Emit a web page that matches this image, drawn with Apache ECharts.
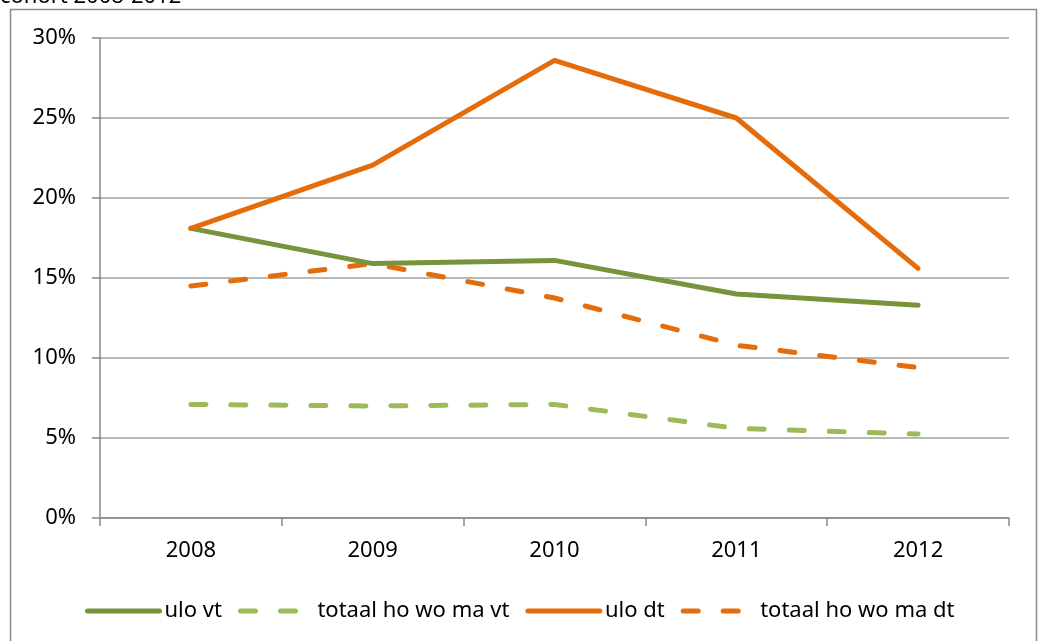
<!DOCTYPE html>
<html>
<head>
<meta charset="utf-8">
<title>cohort 2008-2012</title>
<script src="https://cdn.jsdelivr.net/npm/echarts@6/dist/echarts.min.js"></script>
<style>
    html, body { margin: 0; padding: 0; background: #fff; }
    #main { width: 1038px; height: 641px; }
</style>
</head>
<body>
<div id="main"></div>
<script type="text/javascript">
    // data (percent)
    var years = ['2008', '2009', '2010', '2011', '2012'];
    var uloVt = [18.1, 15.9, 16.1, 14.0, 13.3];
    var totaalVt = [7.1, 7.0, 7.1, 5.6, 5.25];
    var uloDt = [18.1, 22.05, 28.6, 25.0, 15.6];
    var totaalDt = [14.5, 15.9, 13.75, 10.8, 9.4];

    var font = 'Noto Sans';

    var myChart = echarts.init(document.getElementById('main'));

    function lineSeries(name, data, color, dashed) {
        return {
            name: name,
            type: 'line',
            data: data,
            symbol: 'none',
            lineStyle: {
                color: color,
                width: 5,
                type: dashed ? [15, 25] : 'solid',
                cap: 'round',
                join: 'round'
            },
            itemStyle: { color: color },
            z: dashed ? 2 : 3
        };
    }

    var option = {
        animation: false,
        textStyle: { fontFamily: font },
        graphic: [{
            type: 'rect',
            shape: { x: 10.5, y: 9.5, width: 1026, height: 700 },
            style: { fill: 'none', stroke: '#8c8c8c', lineWidth: 1.5 },
            z: -1
        }, {
            type: 'text',
            left: 0,
            top: -14,
            style: { text: 'cohort 2008-2012', fill: '#000', font: '22px "Noto Sans"' }
        }],
        grid: {
            left: 100,
            right: 29,
            top: 38,
            bottom: 123
        },
        legend: {
            left: 80,
            top: 595,
            itemWidth: 72,
            itemHeight: 10,
            itemGap: 16,
            itemStyle: { opacity: 0 },
            lineStyle: { width: 5, cap: 'round' },
            textStyle: { fontFamily: font, fontSize: 22, color: '#000' },
            data: ['ulo vt', 'totaal ho wo ma vt', 'ulo dt', 'totaal ho wo ma dt']
        },
        xAxis: {
            type: 'category',
            data: years,
            boundaryGap: true,
            axisLine: { lineStyle: { color: '#888', width: 1.5 } },
            axisTick: { show: true, length: 8, inside: false, lineStyle: { color: '#888', width: 1.5 } },
            axisLabel: { color: '#000', fontSize: 22, margin: 22 }
        },
        yAxis: {
            type: 'value',
            min: 0,
            max: 30,
            interval: 5,
            axisLine: { show: true, lineStyle: { color: '#888', width: 1.5 } },
            axisTick: { show: true, length: 8, lineStyle: { color: '#888', width: 1.5 } },
            axisLabel: { color: '#000', fontSize: 22, margin: 24, formatter: '{value}%' },
            splitLine: { lineStyle: { color: '#a0a0a0', width: 1.5 } }
        },
        series: [
            lineSeries('ulo vt', uloVt, '#77933C', false),
            lineSeries('totaal ho wo ma vt', totaalVt, '#9BBB59', true),
            lineSeries('ulo dt', uloDt, '#E46C0A', false),
            lineSeries('totaal ho wo ma dt', totaalDt, '#E46C0A', true)
        ]
    };
    myChart.setOption(option);
</script>
</body>
</html>
